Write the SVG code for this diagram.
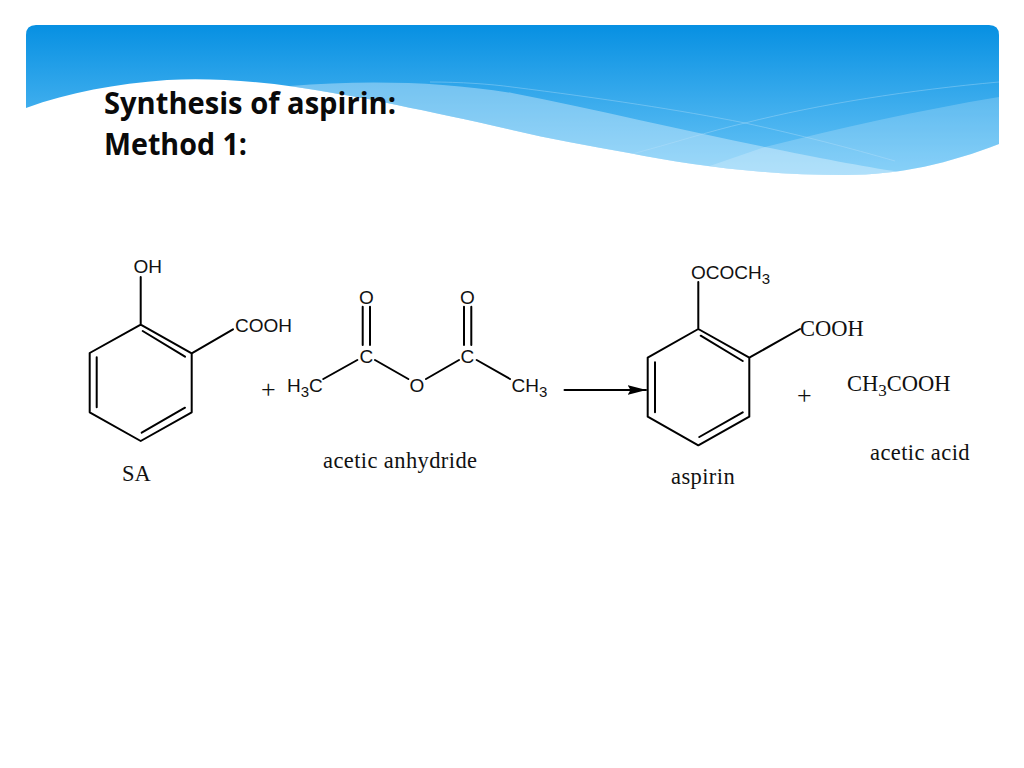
<svg xmlns="http://www.w3.org/2000/svg" width="1024" height="768" viewBox="0 0 1024 768">
<style>
.b{fill:none;stroke:#000;stroke-width:2;stroke-linecap:round;stroke-linejoin:round}
.a{font-family:"Liberation Sans",Arial,sans-serif;font-size:19px;fill:#111}
.s{font-family:"Liberation Serif","Times New Roman",serif;font-size:22.5px;fill:#111}
.p{font-size:26px}
.l{letter-spacing:.4px}
.t{font-family:"Open Sans","Noto Sans",sans-serif;font-size:30px;font-weight:700;fill:#0a0a0a}
.w{fill:none;stroke:#bfe4fa;stroke-width:.8;opacity:.45}
</style>
<defs>
<linearGradient id="g" x1="0" y1="25" x2="0" y2="176" gradientUnits="userSpaceOnUse"><stop offset="0" stop-color="#0790e2"/><stop offset="1" stop-color="#6cc6f7"/></linearGradient>
<clipPath id="c"><path d="M26 108V35Q26 25 36 25H989Q999 25 999 35V144C950 163 900 175 845 175C760 175 690 165 629 153C590 146 550 139 512 130C470 120 430 112 397 105C370 99 350 96 333 93C280 83 220 77 167 80C115 84 70 92 26 108Z"/></clipPath>
<marker id="ah" viewBox="0 0 19 10" refX="18.5" refY="5" markerWidth="19" markerHeight="10" markerUnits="userSpaceOnUse" orient="auto"><path d="M0 0L19 5L0 10L3 5Z"/></marker>
</defs>
<g id="banner">
<path d="M26 108V35Q26 25 36 25H989Q999 25 999 35V144C950 163 900 175 845 175C760 175 690 165 629 153C590 146 550 139 512 130C470 120 430 112 397 105C370 99 350 96 333 93C280 83 220 77 167 80C115 84 70 92 26 108Z" fill="url(#g)"/>
<g clip-path="url(#c)">
<path d="M290 86C360 80 440 81 512 93C600 110 680 130 765 147C820 158 860 166 900 172L900 190H290Z" fill="#fff" opacity=".34"/>
<path d="M698 170L765 147C840 128 920 110 999 97V190H698Z" fill="#fff" opacity=".2"/>
<path class="w" d="M430 82C460 82 490 84 512 87C600 98 680 110 745 123C800 135 850 148 895 161"/>
<path class="w" d="M632 154C670 144 710 131 745 123C820 104 910 90 999 82"/>
</g>
</g>
<g id="title">
<text class="t" x="104" y="114" textLength="292" lengthAdjust="spacingAndGlyphs">Synthesis of aspirin:</text>
<text class="t" x="104" y="155" textLength="143" lengthAdjust="spacingAndGlyphs">Method 1:</text>
</g>
<g id="connectors">
<path class="b" d="M564.500 390H646" marker-end="url(#ah)"/>
</g>
<g id="salicylic-acid">
<path class="b" d="M140.700 324.700L191.700 353.300V412.300L140.700 441L89.700 412.300V353L140.700 324.700ZM142.700 331L185 356.700M185 407.700L141.700 432.700M96.700 357.300V407.300M140.700 324.700V277M191.700 353.300L233 329.300"/>
<text class="a" x="133.500" y="273">OH</text>
<text class="a" x="235" y="332">COOH</text>
<text class="s" x="122" y="481">SA</text>
</g>
<g id="plus-1"><text class="s p" x="261" y="397.500">+</text></g>
<g id="acetic-anhydride">
<path class="b" d="M362.700 306.700V345M370 306.700V345M464 306.700V345M471.300 306.700V345M323.300 379L357.300 360M375 360L408.300 379M426 379L459 360M476.700 360L510 379"/>
<text class="a" x="359" y="304">O</text>
<text class="a" x="460" y="304">O</text>
<text class="a" x="359.500" y="363">C</text>
<text class="a" x="460.500" y="363">C</text>
<text class="a" x="409.500" y="392">O</text>
<text class="a" x="287" y="392">H<tspan dy="5" font-size="15">3</tspan><tspan dy="-5">C</tspan></text>
<text class="a" x="511.500" y="392">CH<tspan dy="5" font-size="15">3</tspan></text>
<text class="s l" x="323" y="468">acetic anhydride</text>
</g>
<g id="aspirin">
<path class="b" d="M698.300 329L749.300 357.700V416.700L698.300 445.300L647.700 416.700V357.700L698.300 329ZM700.700 335.700L742.700 361M742.700 412.300L699.300 437M655 362.300V412.300M698.300 329V282M749.300 357.700L800 329"/>
<text class="a" x="691" y="279">OCOCH<tspan dy="5" font-size="15">3</tspan></text>
<text class="s" x="800" y="336">COOH</text>
<text class="s l" x="671" y="484">aspirin</text>
</g>
<g id="plus-2"><text class="s p" x="797" y="403.500">+</text></g>
<g id="acetic-acid">
<text class="s" x="847" y="391">CH<tspan dy="5" font-size="17">3</tspan><tspan dy="-5">COOH</tspan></text>
<text class="s l" x="870" y="460">acetic acid</text>
</g>
</svg>
